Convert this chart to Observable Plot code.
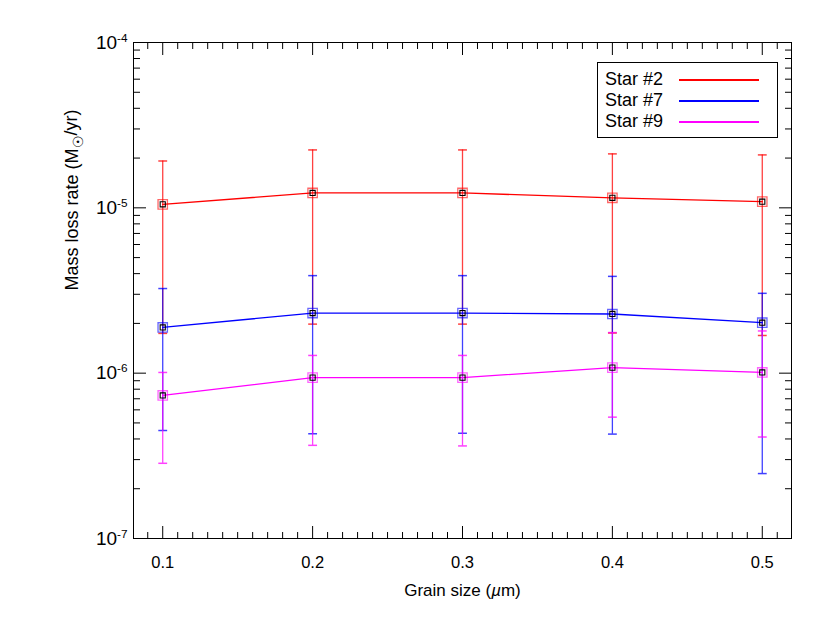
<!DOCTYPE html>
<html>
<head>
<meta charset="utf-8">
<script src="https://cdn.jsdelivr.net/npm/d3@7"></script>
<script src="https://cdn.jsdelivr.net/npm/@observablehq/plot@0.6"></script>
<style>
  html, body { margin: 0; padding: 0; background: #fff; }
  #wrap { position: relative; width: 830px; height: 623px; font-family: "Liberation Sans", Arial, Helvetica, sans-serif; }
  #legend { position: absolute; left: 597px; top: 62px; width: 179px; height: 74px; border: 1px solid #000; background: #fff; }
  .row { position: absolute; left: 7px; height: 20px; font-size: 18px; line-height: 20px; color: #000; }
  .swatch { position: absolute; left: 81px; width: 80px; height: 2px; }
</style>
</head>
<body>
<div id="wrap"></div>
<script>
// ---- data ----
const grainSize = [0.1, 0.2, 0.3, 0.4, 0.5];
const seriesNames = ["Star #2", "Star #7", "Star #9"];
const seriesColors = ["#ff0000", "#0000ff", "#ff00ff"];

const star2   = [1.05e-5, 1.23e-5, 1.23e-5, 1.15e-5, 1.09e-5];
const star2Hi = [1.92e-5, 2.24e-5, 2.24e-5, 2.12e-5, 2.09e-5];
const star2Lo = [1.74e-6, 1.98e-6, 1.98e-6, 1.75e-6, 1.69e-6];

const star7   = [1.89e-6, 2.31e-6, 2.31e-6, 2.28e-6, 2.02e-6];
const star7Hi = [3.25e-6, 3.89e-6, 3.89e-6, 3.85e-6, 3.04e-6];
const star7Lo = [4.50e-7, 4.30e-7, 4.33e-7, 4.28e-7, 2.47e-7];

const star9   = [7.33e-7, 9.40e-7, 9.40e-7, 1.08e-6, 1.01e-6];
const star9Hi = [1.01e-6, 1.28e-6, 1.28e-6, 1.76e-6, 1.80e-6];
const star9Lo = [2.85e-7, 3.66e-7, 3.63e-7, 5.42e-7, 4.11e-7];

const xMajorTicks = [0.1, 0.2, 0.3, 0.4, 0.5];
const xMinorTicks = [0.09, 0.11, 0.12, 0.13, 0.14, 0.15, 0.16, 0.17, 0.18, 0.19,
                     0.21, 0.22, 0.23, 0.24, 0.25, 0.26, 0.27, 0.28, 0.29,
                     0.31, 0.32, 0.33, 0.34, 0.35, 0.36, 0.37, 0.38, 0.39,
                     0.41, 0.42, 0.43, 0.44, 0.45, 0.46, 0.47, 0.48, 0.49, 0.51];
const yMajorTicks = [1e-7, 1e-6, 1e-5, 1e-4];
const yMinorMultipliers = [2, 3, 4, 5, 6, 7, 8, 9];
const yMinorTicks = [1e-7, 1e-6, 1e-5].flatMap(d => yMinorMultipliers.map(m => m * d));

const xLabel = "Grain size (µm)";
const yLabel = "Mass loss rate (M☉/yr)";

const seriesVals = [star2, star7, star9];
const seriesHi = [star2Hi, star7Hi, star9Hi];
const seriesLo = [star2Lo, star7Lo, star9Lo];

// ---- marks ----
const capSymbol = { draw(ctx, size) { const r = Math.sqrt(size) / 2; ctx.moveTo(-r, 0); ctx.lineTo(r, 0); } };

const seriesMarks = seriesNames.flatMap((name, s) => {
  const color = seriesColors[s];
  const rows = grainSize.map((g, i) => ({ x: g, y: seriesVals[s][i], hi: seriesHi[s][i], lo: seriesLo[s][i] }));
  return [
    Plot.ruleX(rows, { x: "x", y1: "lo", y2: "hi", stroke: color, strokeWidth: 1.3, strokeOpacity: 0.75 }),
    Plot.dot(rows, { x: "x", y: "hi", symbol: capSymbol, r: 5, stroke: color, strokeWidth: 1.5, strokeOpacity: 0.75, fill: "none" }),
    Plot.dot(rows, { x: "x", y: "lo", symbol: capSymbol, r: 5, stroke: color, strokeWidth: 1.5, strokeOpacity: 0.75, fill: "none" }),
    Plot.line(rows, { x: "x", y: "y", stroke: color, strokeWidth: 1.3 }),
    Plot.dot(rows, { x: "x", y: "y", symbol: "square", r: 5.3, stroke: color, strokeWidth: 1.3, strokeOpacity: 0.6, fill: "none" }),
    Plot.dot(rows, { x: "x", y: "y", symbol: "square", r: 2.9, stroke: "#000", strokeWidth: 1.1, fill: "none" })
  ];
});

const chart = Plot.plot({
  width: 830,
  height: 623,
  marginLeft: 133,
  marginRight: 39,
  marginTop: 42,
  marginBottom: 85,
  style: { fontFamily: "'Liberation Sans', Arial, Helvetica, sans-serif", fontSize: "15px", background: "#fff", color: "#000" },
  x: { domain: [0.0805, 0.5195] },
  y: { type: "log", domain: [1e-7, 1e-4] },
  marks: [
    ...seriesMarks,
    Plot.frame({ stroke: "#000", strokeWidth: 1 }),
    // bottom x axis
    Plot.axisX(xMajorTicks, { anchor: "bottom", tickSize: -12, tickPadding: 30, tickFormat: d3.format(".1f"), label: null }),
    Plot.axisX(xMinorTicks, { anchor: "bottom", tickSize: -6, fill: "none", label: null }),
    // top x axis
    Plot.axisX(xMajorTicks, { anchor: "top", tickSize: -12, fill: "none", label: null }),
    Plot.axisX(xMinorTicks, { anchor: "top", tickSize: -6, fill: "none", label: null }),
    // left y axis
    Plot.axisY(yMajorTicks, { anchor: "left", tickSize: -13, tickPadding: 19, tickFormat: d => "10^" + Math.round(Math.log10(d)), label: null }),
    Plot.axisY(yMinorTicks, { anchor: "left", tickSize: -7, fill: "none", label: null }),
    // right y axis
    Plot.axisY(yMajorTicks, { anchor: "right", tickSize: -13, fill: "none", label: null }),
    Plot.axisY(yMinorTicks, { anchor: "right", tickSize: -7, fill: "none", label: null }),
    // axis titles
    Plot.text([xLabel], { text: d => d, frameAnchor: "bottom", lineAnchor: "top", dy: 45, fontSize: 17 }),
    Plot.text([yLabel], { text: d => d, frameAnchor: "left", rotate: -90, dx: -61, fontSize: 18 })
  ]
});

// superscripts / subscripts as real text, and tick label sizes
d3.select(chart).selectAll("text").each(function () {
  const t = this.textContent;
  const sel = d3.select(this);
  if (/^10\^-?\d+$/.test(t)) {
    const e = t.slice(3);
    sel.style("font-size", "19px");
    sel.text("10");
    sel.append("tspan").attr("dy", "-0.6em").attr("font-size", "0.62em").text(e);
  } else if (/^0\.\d$/.test(t)) {
    sel.style("font-size", "16.5px");
  } else if (t === yLabel) {
    sel.text("Mass loss rate (M");
    sel.append("tspan").attr("dy", "0.35em").attr("font-size", "0.75em").text("☉");
    sel.append("tspan").attr("dy", "-0.35em").text("/yr)");
  } else if (t === xLabel) {
    sel.text("Grain size (");
    sel.append("tspan").attr("font-style", "italic").text("µ");
    sel.append("tspan").text("m)");
  }
});

const wrap = document.getElementById("wrap");
wrap.appendChild(chart);

// legend
const legend = document.createElement("div");
legend.id = "legend";
const rowTops = [6, 27, 48];
seriesNames.forEach((name, i) => {
  const row = document.createElement("div");
  row.className = "row";
  row.style.top = rowTops[i] + "px";
  row.textContent = name;
  legend.appendChild(row);
  const sw = document.createElement("div");
  sw.className = "swatch";
  sw.style.top = (rowTops[i] + 10) + "px";
  sw.style.background = seriesColors[i];
  legend.appendChild(sw);
});
wrap.appendChild(legend);
</script>
</body>
</html>
